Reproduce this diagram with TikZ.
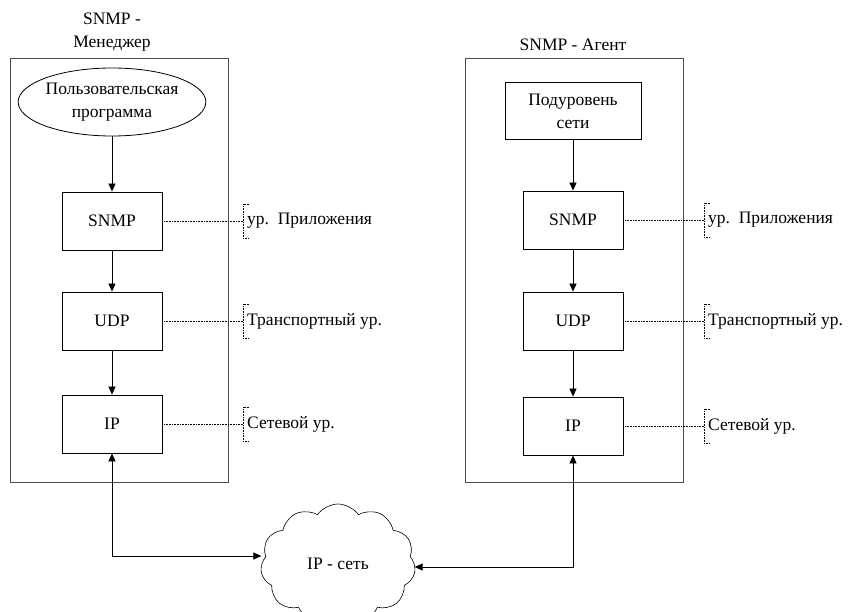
\documentclass[tikz,border=0pt]{standalone}
\usepackage{fontspec}
\setmainfont{Liberation Serif}
\usetikzlibrary{shapes.geometric,shapes.symbols,arrows.meta}
\tikzset{
  box/.style={draw, line width=0.8pt, minimum width=100pt, minimum height=58pt, align=center, font=\fontsize{17.5}{21}\selectfont},
  outer/.style={draw, line width=0.8pt, gray!60!black},
  lbl/.style={anchor=west, font=\fontsize{17.5}{21}\selectfont, inner sep=0pt},
  ttl/.style={align=center, font=\fontsize{17.5}{23}\selectfont},
  dot/.style={densely dotted, line width=0.6pt},
  arr/.style={-{Triangle[length=8pt,width=7pt]}, line width=0.7pt},
  darr/.style={{Triangle[length=8pt,width=7pt]}-{Triangle[length=8pt,width=7pt]}, line width=0.7pt},
}
\begin{document}
\begin{tikzpicture}[x=1pt,y=-1pt]
\useasboundingbox (0,0) rectangle (858,612);
% outer frames
\draw[outer] (10,58) rectangle (228,482);
\draw[outer] (465,58) rectangle (683,482);
\node[ttl] (t1) at (112,32) {SNMP -\\Менеджер};
\node[ttl] (t2) at (573,45) {SNMP - Агент};
% left stack
\node[draw, ellipse, line width=0.8pt, minimum width=187pt, minimum height=68pt, inner sep=0pt, align=center, font=\fontsize{17.5}{23}\selectfont] (up) at (112,102) {Пользовательская\\программа};
\node[box] (s1) at (112,221) {SNMP};
\node[box] (u1) at (112,321) {UDP};
\node[box] (i1) at (112,424) {IP};
% right stack
\node[box, minimum width=136pt, minimum height=57pt, font=\fontsize{17.5}{23}\selectfont] (ps) at (573,111) {Подуровень\\сети};
\node[box] (s2) at (573,220) {SNMP};
\node[box] (u2) at (573,321) {UDP};
\node[box] (i2) at (573,426) {IP};
\draw[arr] (up) -- (s1);
\draw[arr] (s1) -- (u1);
\draw[arr] (u1) -- (i1);
\draw[arr] (ps) -- (s2);
\draw[arr] (s2) -- (u2);
\draw[arr] (u2) -- (i2);
% brackets
\foreach \n/\bx/\y/\t in {a/243/221/{ур.\ \ Приложения}, b/243/321/{Транспортный ур.}, c/243/424/{Сетевой ур.}, d/704/220/{ур.\ \ Приложения}, e/704/321/{Транспортный ур.}, f/704/426/{Сетевой ур.}}{
  \coordinate (br\n) at (\bx,\y);
  \draw[dot] (\bx+6,\y-17) -- (\bx,\y-17) -- (\bx,\y+17) -- (\bx+6,\y+17);
  \node[lbl] (l\n) at (\bx+4,\y) {\t};
}
\draw[dot] (s1.east) -- (bra);
\draw[dot] (u1.east) -- (brb);
\draw[dot] (i1.east) -- (brc);
\draw[dot] (s2.east) -- (brd);
\draw[dot] (u2.east) -- (bre);
\draw[dot] (i2.east) -- (brf);
% cloud
\node[cloud, draw, line width=0.6pt, cloud puffs=11, cloud puff arc=110, aspect=1.35, minimum width=155pt, minimum height=120pt, font=\fontsize{17.5}{21}\selectfont] (net) at (338,564) {IP - сеть};
\coordinate (c1) at (112,556);
\coordinate (c2) at (573,567);
\draw[darr] (i1.south) -- (c1) -- (net.west |- c1);
\draw[darr] (i2.south) -- (c2) -- (net.east |- c2);
\end{tikzpicture}
\end{document}
